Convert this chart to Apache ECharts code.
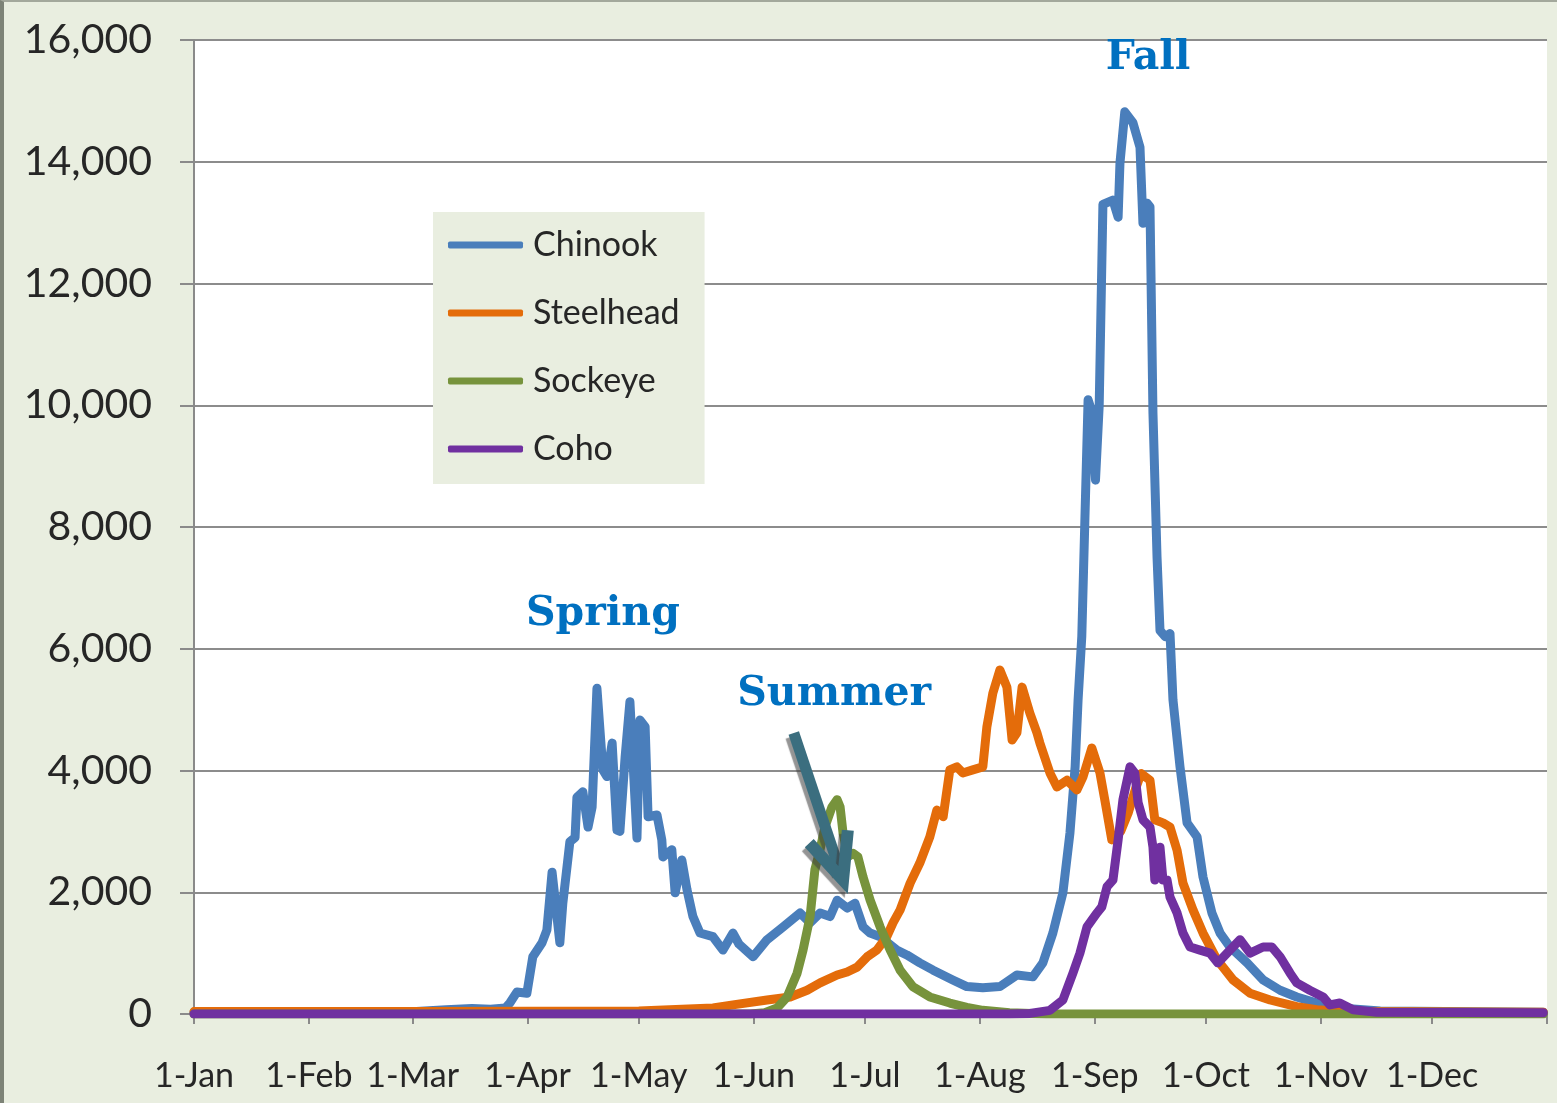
<!DOCTYPE html>
<html>
<head>
<meta charset="utf-8">
<script src="https://cdn.jsdelivr.net/npm/echarts@6/dist/echarts.min.js"></script>
<style>
html,body{margin:0;padding:0;background:#e9eee0;}
#wrap{position:relative;width:1557px;height:1103px;}
#main{width:1557px;height:1103px;}
#frame{position:absolute;left:0;top:0;width:1557px;height:1103px;box-sizing:border-box;border-left:4px solid #7d8377;border-top:2px solid #a3a89c;pointer-events:none;}
</style>
</head>
<body>
<div id="wrap"><div id="main"></div><div id="frame"></div></div>
<script>
// Day-of-year positions of month starts (x axis ticks) and their labels
const monthStarts = [0, 31, 59, 90, 120, 151, 181, 212, 243, 273, 304, 334, 365];
const monthLabels = ['1-Jan','1-Feb','1-Mar','1-Apr','1-May','1-Jun','1-Jul','1-Aug','1-Sep','1-Oct','1-Nov','1-Dec'];
const yTicks = [0, 2000, 4000, 6000, 8000, 10000, 12000, 14000, 16000];

// [day of year, fish count]
const chinook = [[0,30],[30,40],[60,40],[68,70],[75,90],[80,80],[84,100],[85.2,180],[87.1,360],[89.8,340],[91.4,940],[93.9,1170],[95.2,1380],[96.6,2330],[98.7,1170],[99.5,1820],[101.4,2830],[102.8,2900],[103.3,3560],[104.9,3650],[106.3,3070],[107.4,3400],[108.7,5350],[110.3,4010],[111.4,3900],[112.8,4450],[114.1,3020],[114.9,3000],[116.3,4220],[117.6,5130],[119.5,2890],[120.3,4830],[121.7,4720],[122.5,3240],[124.9,3270],[126.2,2860],[126.5,2580],[128.9,2700],[129.8,1990],[131.6,2530],[133.0,2040],[134.6,1600],[136.5,1330],[140,1270],[142.7,1050],[145.4,1330],[147,1150],[150.8,940],[154.6,1220],[158.9,1430],[163.5,1660],[166.2,1500],[168.9,1660],[171.6,1600],[173.5,1870],[176.2,1740],[178.3,1820],[180.5,1430],[182.4,1330],[185.1,1270],[189.6,1050],[192.3,970],[195.8,840],[199.4,720],[204.7,560],[208.5,450],[212.8,430],[217.4,450],[222.0,640],[226.3,610],[229.0,840],[231.7,1330],[234.4,1990],[236.3,2970],[237.7,4060],[238.5,5160],[239.5,6200],[240.5,8500],[241.2,10090],[242.2,9900],[243.2,8770],[244.2,10000],[245.2,13300],[247.9,13370],[249.3,13090],[249.8,13980],[251.1,14820],[253.3,14640],[255.2,14240],[256.0,12990],[257.1,13320],[257.9,13260],[258.7,9870],[259.8,7500],[260.6,6300],[262,6200],[263.3,6250],[264.1,5160],[266,4060],[267.9,3140],[270.6,2910],[272.2,2250],[274.6,1660],[276.8,1330],[279.5,1100],[284.1,840],[288.4,560],[293,390],[297.5,280],[302.9,180],[309.1,100],[320,50],[364,30]];

const steelhead = [[0,40],[60,40],[120,50],[140,100],[145.4,150],[154.6,230],[160.8,280],[165.4,390],[168.9,510],[173.5,640],[176.2,690],[178.9,770],[181.6,940],[184.2,1050],[186.9,1270],[188.6,1500],[190.5,1710],[193.2,2150],[195.8,2480],[198.5,2910],[200.4,3350],[202.1,3240],[203.9,4010],[205.8,4060],[207.4,3960],[210.1,4010],[212.8,4060],[213.9,4720],[215.5,5270],[217.4,5650],[219.3,5370],[220.7,4500],[222,4620],[223.4,5370],[225.5,4940],[227.4,4620],[228.2,4450],[230.9,3960],[232.8,3730],[235.5,3840],[238.2,3680],[239.8,3890],[242.2,4370],[244.4,3960],[245.7,3520],[247.6,2860],[250,3000],[252,3300],[254,3700],[255.5,3950],[257.9,3840],[259.2,3190],[261.4,3140],[263.3,3070],[265.2,2690],[266.8,2150],[269.5,1710],[272.2,1330],[276,890],[280.3,560],[284.9,340],[290.3,230],[297.5,120],[302.9,70],[310,40],[364,30]];

const sockeye = [[0,0],[150,0],[154,20],[157.3,100],[160,280],[162.7,670],[164.3,1050],[166.2,1600],[167.5,2370],[168.9,2700],[170.2,3070],[172.1,3400],[173.5,3520],[174.3,3400],[175.1,2970],[176.4,2580],[177.8,2640],[179.1,2580],[180.5,2250],[182.4,1870],[185.1,1430],[187.8,1050],[190.5,720],[193.9,450],[198.5,280],[203.9,180],[208.5,110],[212.8,60],[220,20],[230,0],[364,0]];

const coho = [[0,0],[220,0],[225.5,10],[230.9,60],[234.4,230],[237.1,670],[239,1000],[240.9,1430],[243.6,1660],[244.9,1760],[246.3,2090],[247.9,2200],[249.3,2860],[250.6,3520],[252.5,4060],[253.8,3960],[254.7,3470],[256,3190],[257.9,3070],[258.7,2740],[259.2,2200],[260.6,2740],[261.4,2200],[262.5,2200],[263.3,1920],[265.2,1660],[266.8,1330],[268.7,1100],[271.4,1050],[274.1,1000],[276.2,840],[278.7,1000],[282.2,1220],[284.9,1000],[288.4,1100],[290.8,1100],[293,940],[295.7,670],[297.5,510],[301,390],[304.6,280],[306.4,150],[309.1,180],[312.7,70],[319.1,30],[364,20]];

// Annotation anchors in data space [day, count]
const seasonLabels = [
  {text: 'Fall', at: [257.4, 15700]},
  {text: 'Spring', at: [110.3, 6560]},
  {text: 'Summer', at: [172.7, 5250]}
];
const arrowFrom = [161.8, 4616];
const arrowTo = [175.1, 2201];

const chart = echarts.init(document.getElementById('main'), null, {renderer: 'canvas'});
const font = 'Lato, "Open Sans", sans-serif';
const lineSeries = (name, data, color) => ({
  name, type: 'line', data, symbol: 'none', smooth: false,
  lineStyle: {width: 9, color, join: 'round', cap: 'round'},
  itemStyle: {color}, emphasis: {disabled: true}
});

chart.setOption({
  backgroundColor: '#e9eee0',
  animation: false,
  grid: {left: 194, top: 40, right: 10, bottom: 89, show: true, backgroundColor: '#ffffff', borderWidth: 0, outerBoundsMode: 'none'},
  legend: {
    orient: 'vertical', left: 433, top: 212,
    padding: [15, 25, 17, 15],
    backgroundColor: '#e9eee0',
    icon: 'roundRect', itemWidth: 75, itemHeight: 7, itemGap: 32,
    textStyle: {fontFamily: font, fontSize: 34, color: '#262626', lineHeight: 36, padding: [0, 0, 0, 5]},
    data: ['Chinook', 'Steelhead', 'Sockeye', 'Coho']
  },
  xAxis: {
    type: 'value', min: 0, max: 365,
    axisLine: {show: true, lineStyle: {color: '#8a8a8a', width: 2}},
    axisTick: {show: true, length: 10, customValues: monthStarts, lineStyle: {color: '#8a8a8a', width: 2}},
    axisLabel: {customValues: monthStarts.slice(0, 12), margin: 45, fontFamily: font, fontSize: 34, color: '#262626',
      formatter: v => monthLabels[monthStarts.indexOf(v)] || ''},
    splitLine: {show: false}
  },
  yAxis: {
    type: 'value', min: 0, max: 16000, interval: 2000,
    axisLine: {show: true, lineStyle: {color: '#8a8a8a', width: 2}},
    axisTick: {show: true, length: 14, lineStyle: {color: '#8a8a8a', width: 2}},
    axisLabel: {margin: 42, fontFamily: font, fontSize: 41, color: '#262626',
      formatter: v => v.toLocaleString('en-US')},
    splitLine: {show: true, lineStyle: {color: '#8c8c8c', width: 2}}
  },
  series: [
    lineSeries('Chinook', chinook, '#4a7ebb'),
    lineSeries('Steelhead', steelhead, '#e46c0a'),
    lineSeries('Sockeye', sockeye, '#77933c'),
    lineSeries('Coho', coho, '#7030a0')
  ]
});

// annotations positioned from data coordinates
const px = p => chart.convertToPixel({gridIndex: 0}, p);
const graphics = seasonLabels.map(s => {
  const p = px(s.at);
  return {type: 'text', x: p[0], y: p[1], z: 100,
    style: {text: s.text, font: 'bold 41px "DejaVu Serif", serif', fill: '#0070c0', align: 'center', verticalAlign: 'middle'}};
});
const a = px(arrowFrom), b = px(arrowTo);
const ang = Math.atan2(a[1] - b[1], a[0] - b[0]);
const armLen = 50, spread = 24 * Math.PI / 180;
const armL = [b[0] + armLen * Math.cos(ang - spread), b[1] + armLen * Math.sin(ang - spread)];
const armR = [b[0] + armLen * Math.cos(ang + spread), b[1] + armLen * Math.sin(ang + spread)];
const shaftEnd = [b[0] + 8 * Math.cos(ang), b[1] + 8 * Math.sin(ang)];
const arrowStyle = {stroke: '#3b6e7f', lineWidth: 11, lineJoin: 'miter', lineCap: 'butt',
  shadowColor: 'rgba(60,60,60,0.55)', shadowOffsetX: -3, shadowOffsetY: 4, shadowBlur: 1};
graphics.push({type: 'polyline', z: 100, shape: {points: [a, shaftEnd]}, style: arrowStyle});
graphics.push({type: 'polyline', z: 100, shape: {points: [armL, b, armR]}, style: Object.assign({}, arrowStyle, {lineWidth: 12})});
chart.setOption({graphic: graphics});
</script>
</body>
</html>
